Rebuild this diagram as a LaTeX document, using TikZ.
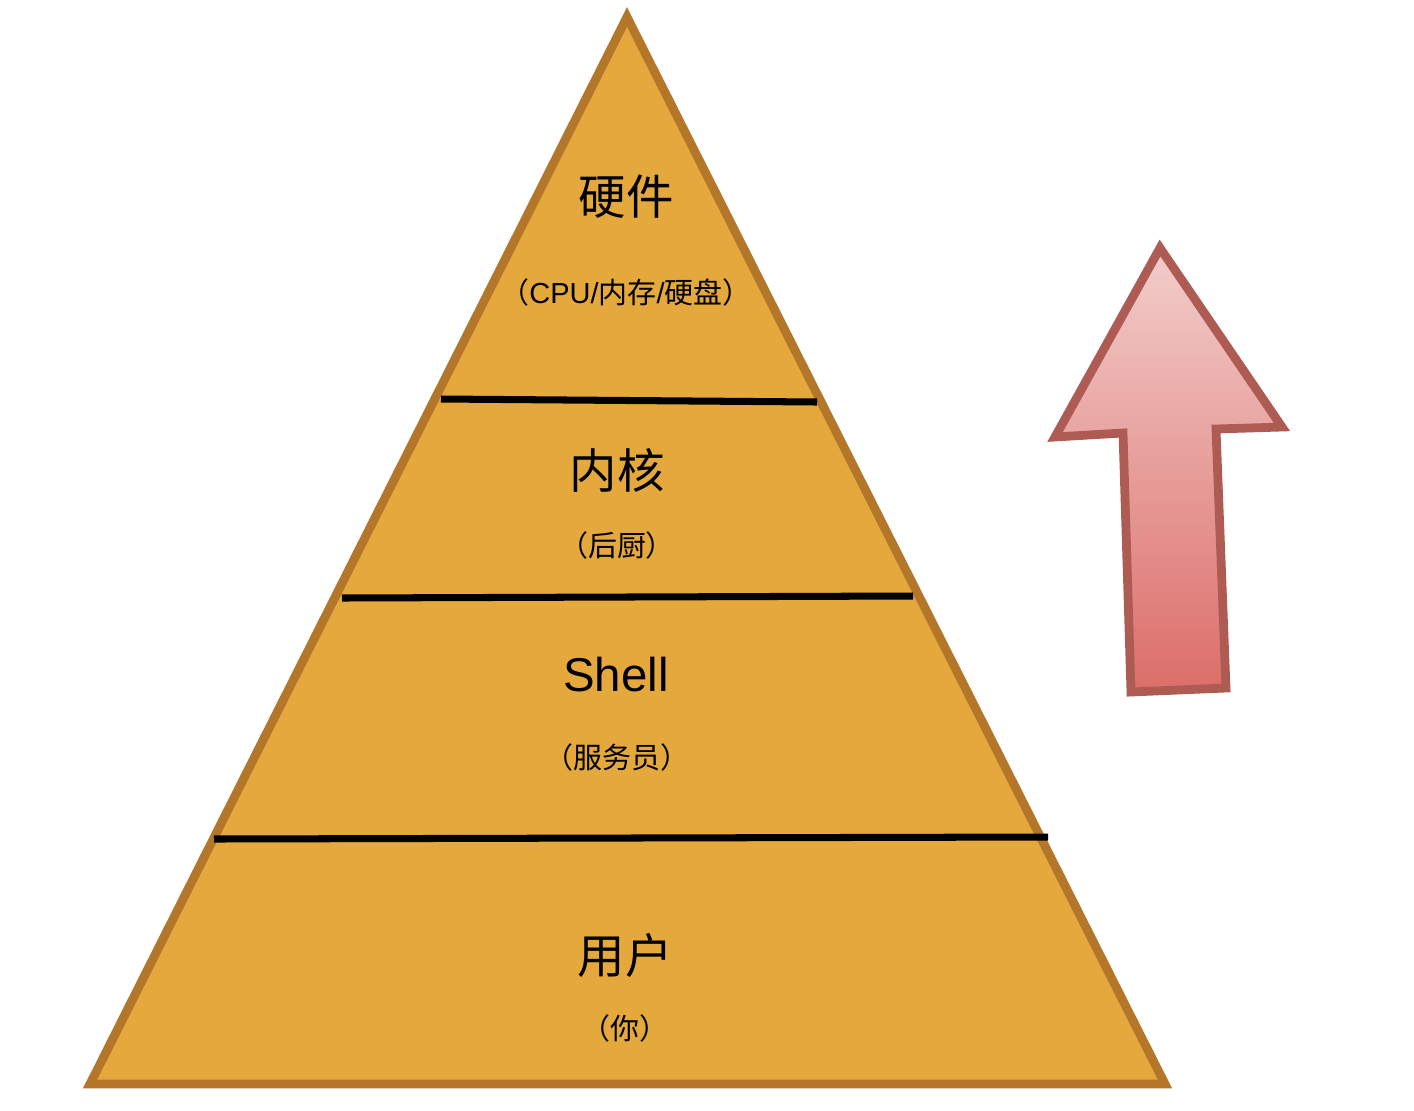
\documentclass[tikz,border=0pt]{standalone}
\usepackage{fontspec}
\setmainfont{Liberation Sans}
\newfontfamily\cjk{Noto Sans CJK SC}
\usepackage{tikz}
\usetikzlibrary{positioning}

\definecolor{pyrfill}{HTML}{E4A83D}
\definecolor{pyrline}{HTML}{B47629}
\definecolor{arrtop}{HTML}{F2CDCB}
\definecolor{arrbot}{HTML}{DC6E69}
\definecolor{arrline}{HTML}{AE5B54}

\begin{document}
\begin{tikzpicture}[
    x=0.02cm, y=-0.02cm,
    pyr/.style={draw=pyrline, fill=pyrfill, line width=5pt, line join=miter},
    sep/.style={draw=black, line width=4pt},
    ttl/.style={font=\fontsize{27}{30}\selectfont, inner sep=0pt},
    sub/.style={font=\fontsize{16.5}{19}\selectfont, inner sep=0pt},
    bigarr/.style={draw=arrline, line width=5pt, top color=arrtop, bottom color=arrbot, line join=miter}
]
\useasboundingbox (0,0) rectangle (1414,1110);

% pyramid
\coordinate (apex) at (627,17);
\coordinate (bl) at (90,1084);
\coordinate (br) at (1165,1084);
\path[pyr] (apex) -- (br) -- (bl) -- cycle;

% layer separators
\coordinate (s1l) at (441,399);
\coordinate (s1r) at (817,402);
\coordinate (s2l) at (342,598);
\coordinate (s2r) at (913,596);
\coordinate (s3l) at (214,839);
\coordinate (s3r) at (1048,837);
\draw[sep] (s1l) -- (s1r);
\draw[sep] (s2l) -- (s2r);
\draw[sep] (s3l) -- (s3r);

% labels
\node[ttl] (hw) at (626,197) {\cjk 硬件};
\node[sub] (hwsub) at (626,292) {{\cjk （}CPU/{\cjk 内存}/{\cjk 硬盘）}};
\node[ttl] (kern) at (617,470) {\cjk 内核};
\node[sub] (kernsub) at (617,545) {\cjk （后厨）};
\node[ttl] (shell) at (616,675) {Shell};
\node[sub] (shellsub) at (617,757) {\cjk （服务员）};
\node[ttl] (user) at (625,955) {\cjk 用户};
\node[sub] (usersub) at (625,1028) {\cjk （你）};

% arrow
\path[bigarr] (1160,248) -- (1282,427) -- (1216,429) -- (1226,688)
    -- (1131,692) -- (1123,433) -- (1055,437) -- cycle;
\end{tikzpicture}
\end{document}
